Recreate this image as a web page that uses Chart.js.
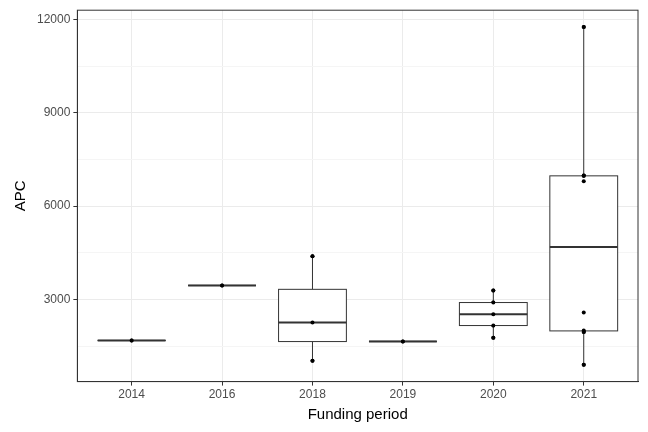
<!DOCTYPE html>
<html><head><meta charset="utf-8">
<script src="https://cdn.jsdelivr.net/npm/chart.js@4/dist/chart.umd.min.js"></script>
<style>html,body{margin:0;padding:0;background:#fff}#w{width:648px;height:432px}</style>
</head><body><div id="w"><canvas id="c"></canvas></div>
<script>
const categories = ['2014','2016','2018','2019','2020','2021'];
const values2014 = [1680];
const values2016 = [3450];
const values2018 = [1030, 2260, 4390];
const values2019 = [1650];
const values2020 = [1770, 2160, 2520, 2900, 3290];
const values2021 = [900, 1950, 2000, 2580, 6800, 6970, 6990, 11760];
const seriesValues = [values2014, values2016, values2018, values2019, values2020, values2021];
const yTicks = [3000, 6000, 9000, 12000];

function q(sorted, p){ const h=(sorted.length-1)*p, lo=Math.floor(h), hi=Math.ceil(h); return sorted[lo]+(h-lo)*(sorted[hi]-sorted[lo]); }
const stats = seriesValues.map(v=>{const s=[...v].sort((a,b)=>a-b);
  const q1=q(s,.25),q3=q(s,.75),iqr=q3-q1;
  const inr=s.filter(x=>x>=q1-1.5*iqr&&x<=q3+1.5*iqr);
  return {q1,med:q(s,.5),q3,lo:Math.min(...inr),hi:Math.max(...inr)};});
const points=[]; seriesValues.forEach((v,i)=>v.forEach(y=>points.push({x:i,y})));

const boxPlugin={id:'box',afterDatasetsDraw(ch){
  const ctx=ch.ctx,xs=ch.scales.x,ys=ch.scales.y;ctx.save();
  stats.forEach((s,i)=>{
    const cx=xs.getPixelForValue(i),hw=(xs.getPixelForValue(i+0.375)-xs.getPixelForValue(i-0.375))/2;
    const y1=ys.getPixelForValue(s.q1),y3=ys.getPixelForValue(s.q3),ym=ys.getPixelForValue(s.med);
    ctx.strokeStyle='#333';ctx.lineWidth=1;
    ctx.beginPath();ctx.moveTo(cx,ys.getPixelForValue(s.hi));ctx.lineTo(cx,y3);
    ctx.moveTo(cx,y1);ctx.lineTo(cx,ys.getPixelForValue(s.lo));ctx.stroke();
    ctx.fillStyle='#fff';ctx.fillRect(cx-hw,y3,2*hw,y1-y3);ctx.strokeRect(cx-hw,y3,2*hw,y1-y3);
    ctx.lineWidth=2;ctx.beginPath();ctx.moveTo(cx-hw,ym);ctx.lineTo(cx+hw,ym);ctx.stroke();
  });
  const meta=ch.getDatasetMeta(0);ctx.fillStyle='#000';
  meta.data.forEach(p=>{ctx.beginPath();ctx.arc(p.x,p.y,2,0,Math.PI*2);ctx.fill();});
  ctx.restore();}};

new Chart(document.getElementById('c'),{type:'scatter',
 data:{datasets:[{data:points,pointRadius:2,backgroundColor:'#000',borderWidth:0}]},
 options:{responsive:true,maintainAspectRatio:false,animation:false,
  layout:{padding:{top:8,right:10,left:8,bottom:4}},
  plugins:{legend:{display:false},tooltip:{enabled:false}},
  scales:{
   x:{type:'linear',min:-0.6,max:5.6,
     afterBuildTicks(a){a.ticks=categories.map((c,i)=>({value:i}));},
     ticks:{callback:(v)=>categories[v],color:'#4d4d4d',font:{family:'Liberation Sans',size:12},padding:2,autoSkip:false,maxRotation:0},
     grid:{color:'#ebebeb',lineWidth:1,tickColor:'#333',tickLength:4},
     border:{color:'#333',width:1},
     title:{display:true,text:'Funding period',color:'#000',font:{family:'Liberation Sans',size:15},padding:{top:2}}},
   y:{min:357,max:12303,
     afterBuildTicks(a){const t=[];for(let v=1500;v<=12000;v+=1500)t.push({value:v});a.ticks=t;},
     ticks:{callback:v=>yTicks.includes(v)?String(v):'',color:'#4d4d4d',font:{family:'Liberation Sans',size:12},padding:3},
     grid:{color:c=>c.tick&&yTicks.includes(c.tick.value)?'#ebebeb':'#f5f5f5',
       tickColor:c=>c.tick&&yTicks.includes(c.tick.value)?'#333':'rgba(0,0,0,0)',tickLength:4},
     border:{color:'#333',width:1},
     title:{display:true,text:'APC',color:'#000',font:{family:'Liberation Sans',size:15}}}}},
 plugins:[boxPlugin,{id:'frame',afterDraw(ch){const a=ch.chartArea,c=ch.ctx;c.save();c.strokeStyle='#333';c.lineWidth=1;c.strokeRect(a.left,a.top,a.right-a.left,a.bottom-a.top);c.restore();}}]});
</script></body></html>
